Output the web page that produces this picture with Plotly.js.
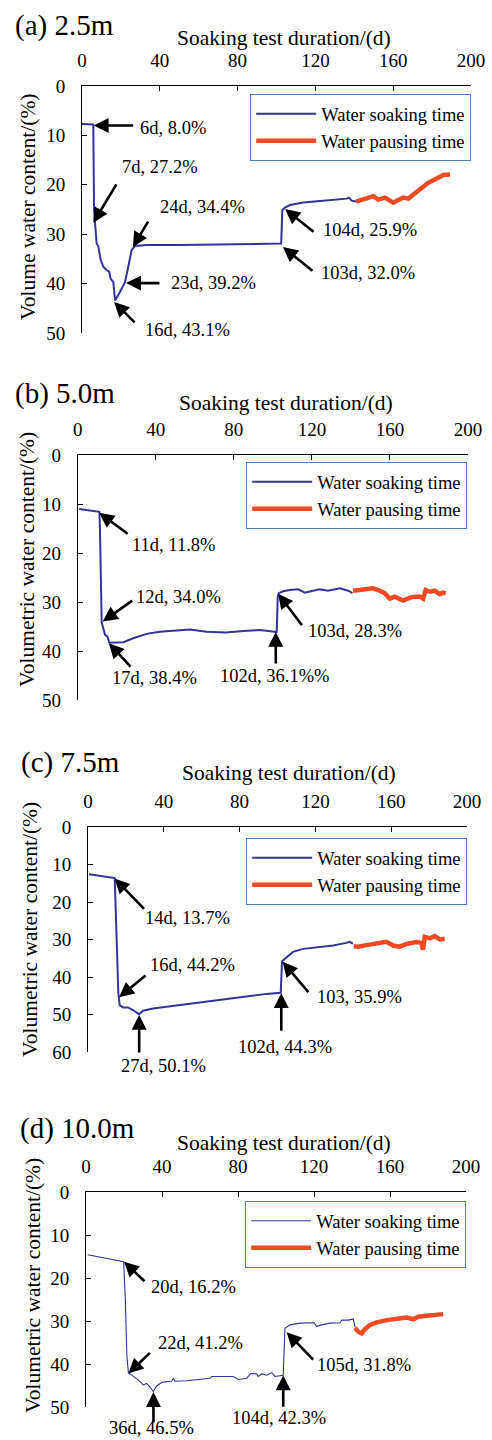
<!DOCTYPE html>
<html>
<head>
<meta charset="utf-8">
<script src="https://cdn.plot.ly/plotly-3.0.1.min.js"></script>
<style>
html,body{margin:0;padding:0;background:#fff;}
#chart{width:492px;height:1440px;}
</style>
</head>
<body>
<div id="chart"></div>
<script>
// ---------------- DATA ----------------
const xTickVals = [0, 40, 80, 120, 160, 200];

const panelTitles = ['(a) 2.5m', '(b) 5.0m', '(c) 7.5m', '(d) 10.0m'];
const xTitle = 'Soaking test duration/(d)';
const yTitles = ['Volume water content/(%)', 'Volumetric water content/(%)',
                 'Volumetric water content/(%)', 'Volumetric water content/(%)'];
const seriesNames = ['Water soaking time', 'Water pausing time'];
const yMax = [50, 50, 60, 50];

// (a) 2.5 m
const aBlueDay = [0, 3, 5.8, 6.2, 6.7, 7.5, 8.4, 9.6, 11, 12.7, 14, 14.7, 16.1, 16.6, 17, 19.5, 22.1, 23.8, 25.5, 27.2, 33.3, 50, 70, 90, 102.4, 103, 104.4, 106.9, 113.8, 122.4, 130.9, 136.1, 137.3, 138.6, 140.9];
const aBlueVal = [7.7, 7.7, 7.8, 25.1, 27.8, 31.8, 32.5, 35.2, 36.6, 37.3, 37.6, 39.0, 39.7, 43.0, 43.4, 41.7, 39.7, 36.6, 33.2, 32.4, 32.2, 32.2, 32.1, 31.9, 31.9, 25.1, 24.6, 24.1, 23.6, 23.3, 23.0, 22.8, 22.6, 23.2, 23.4];
const aRedDay = [140.9, 143.8, 147.2, 149.8, 152.3, 155.8, 157.5, 160.1, 162.6, 165.2, 167.8, 170.3, 172.9, 175.5, 178, 180.6, 183.2, 185.8, 189.2];
const aRedVal = [23.4, 23.1, 22.8, 22.3, 23.0, 22.6, 23.0, 23.6, 23.1, 22.6, 22.8, 22.0, 21.3, 20.4, 19.6, 19.1, 18.5, 18.0, 17.9];
const aNoteDay = [6, 5.8, 26.2, 22.6, 16.5, 104.4, 103.3];
const aNoteVal = [8.0, 27.7, 32.6, 39.9, 43.7, 24.9, 32.6];
const aNoteText = ['6d, 8.0%', '7d, 27.2%', '24d, 34.4%', '23d, 39.2%', '16d, 43.1%', '104d, 25.9%', '103d, 32.0%'];

// (b) 5.0 m
const bBlueDay = [0.7, 5, 11.1, 11.4, 12, 12.3, 14, 15.2, 16.2, 20, 23.4, 28.5, 35.3, 42, 49, 57.5, 66, 76, 84.8, 93.3, 101, 102, 102.5, 103, 105.3, 108.7, 113, 116.4, 120.6, 124, 128.3, 134.3, 138.6, 140.8];
const bBlueVal = [11.0, 11.3, 11.6, 15, 34.0, 34.2, 36.7, 37.0, 38.3, 38.3, 38.2, 37.4, 36.5, 36.05, 35.85, 35.6, 36.05, 36.2, 35.9, 35.7, 36.05, 36.1, 29, 28.2, 27.8, 27.55, 27.4, 28.1, 27.7, 27.4, 27.7, 27.2, 27.7, 28.2];
const bRedDay = [141.1, 146.2, 151.4, 154.8, 157.3, 159.9, 162.5, 166.7, 171, 175.3, 177, 178.3, 180.4, 182.9, 185.5, 187.2, 188.6];
const bRedVal = [27.7, 27.55, 27.2, 27.7, 28.2, 29.3, 28.9, 29.7, 29.0, 28.9, 29.3, 27.55, 27.9, 27.7, 28.4, 28.1, 28.2];
const bNoteDay = [11, 12.8, 16, 101.5, 102.7];
const bNoteVal = [11.8, 34.0, 38.4, 36.1, 28.3];
const bNoteText = ['11d, 11.8%', '12d, 34.0%', '17d, 38.4%', '102d, 36.1%%', '103d, 28.3%'];

// (c) 7.5 m
const cBlueDay = [0.5, 7, 14.1, 14.5, 15.5, 16, 16.7, 18.5, 21.1, 23.7, 26.9, 29, 34.3, 44.9, 58.9, 76.5, 94.1, 101.7, 102.4, 104.7, 108.2, 113.5, 120.5, 129.3, 136.3, 138, 139.8];
const cBlueVal = [12.6, 13.1, 13.6, 20, 38, 44.2, 47.5, 48.1, 48.1, 48.8, 49.9, 49.0, 48.4, 47.7, 46.9, 45.7, 44.5, 44.2, 35.8, 34.8, 33.3, 32.5, 32.1, 31.6, 30.9, 30.6, 31.1];
const cRedDay = [140.2, 142.5, 146.9, 152.2, 157.4, 161, 164.5, 168, 173.3, 175.9, 176.8, 177.7, 180.3, 182.9, 185.6, 188.2];
const cRedVal = [31.8, 31.9, 31.5, 31.1, 30.6, 31.6, 31.9, 31.2, 30.7, 30.9, 32.7, 29.3, 29.7, 29.1, 30.0, 29.8];
const cNoteDay = [14, 16.4, 27, 102, 102.7];
const cNoteVal = [13.7, 45.4, 50.1, 44.3, 35.9];
const cNoteText = ['14d, 13.7%', '16d, 44.2%', '27d, 50.1%', '102d, 44.3%', '103, 35.9%'];

// (d) 10.0 m
const dBlueDay = [0.9, 10, 19.8, 20.7, 21.5, 22.3, 24.9, 27.5, 30.2, 31.9, 33.7, 35.4, 37.2, 39.8, 42.5, 45.1, 46, 46.8, 53, 60, 65.3, 66.2, 77.5, 80.2, 84.6, 86.7, 89.8, 90.7, 92.5, 95.1, 97.7, 99.5, 102.1, 103.8, 104.7, 107.4, 112.6, 117.9, 120, 121.4, 124, 128.4, 133.7, 134.6, 138.1, 140.7, 141.6];
const dBlueVal = [14.6, 15.4, 16.2, 25, 38, 42.0, 42.9, 43.7, 44.9, 44.5, 45.4, 46.4, 45.1, 44.3, 44.1, 44.0, 43.3, 44.0, 43.9, 43.6, 43.3, 42.9, 42.9, 43.6, 43.3, 42.2, 42.3, 42.9, 42.3, 42.6, 42.0, 42.9, 42.8, 42.6, 31.7, 30.9, 30.5, 30.4, 30.4, 31.3, 30.9, 30.5, 30.4, 29.8, 29.8, 29.5, 31.5];
const dRedDay = [141.6, 143.3, 145.1, 146.8, 149.5, 153, 158.3, 163.5, 168.8, 172.3, 174.9, 179.3, 183.7, 188];
const dRedVal = [31.6, 32.5, 32.9, 31.9, 30.9, 30.3, 29.8, 29.5, 29.2, 29.6, 29.0, 28.8, 28.6, 28.4];
const dNoteDay = [20, 22.3, 35.5, 103.8, 105.6];
const dNoteVal = [16.2, 42.2, 46.5, 42.6, 32.6];
const dNoteText = ['20d, 16.2%', '22d, 41.2%', '36d, 46.5%', '104d, 42.3%', '105d, 31.8%'];

// ---------------- LAYOUT / STYLE ----------------
const W = 492, H = 1440;
const FONT = 'Liberation Serif, Times New Roman, serif';
const BLUE = '#33339a', RED = '#f04a24', LEGBORDER = '#4a7ebb';
const blueWidth = [2, 2, 2, 1.1];

// plot-area pixel boxes [left, right], [top, bottom]
const boxX = [[82, 471], [77.7, 468], [88, 467], [86, 466]];
const boxY = [[86, 333], [455, 700], [827, 1052], [1192, 1407]];
const titlePos = [[13, 25], [13, 393], [19, 762], [18, 1128]];
const xTitlePos = [[284, 38], [286, 403], [289, 773], [284, 1143]];
const yTitlePos = [[28, 207], [27, 560], [30, 930], [33, 1286]];
const legendPos = [[471, 94], [467, 462], [467, 838], [466, 1201]];

// annotation placement (pixels): arrow tail offset, text left/centre offset
const arrowDX = [[41, 24, 16, 35, 22, 30, 31], [30, 31, 23, 0, 25], [31, 28, 0, 0, 27], [22, 23, 0, 0, 28]];
const arrowDY = [[0, -40, -27, 0, 22, 24, 25], [22, -22, 25, 33, 33], [32, -23, 39, 39, 32], [21, -22, 32, 33, 29]];
const textDX = [[44, 27, 25, 43, 29, 36, 36], [31, 31, 1, -58, 28], [28, 29, -20, -45, 32], [25, 28, -46, -53, 28]];
const textDY = [[-2, 56, 40, 0, -28, -21, -26], [-32, 25, -35, -44, -37], [-40, 32, -51, -54, -35], [-25, 30, -36, -43, -33]];

const panels = [
  {bd: aBlueDay, bv: aBlueVal, rd: aRedDay, rv: aRedVal, nd: aNoteDay, nv: aNoteVal, nt: aNoteText},
  {bd: bBlueDay, bv: bBlueVal, rd: bRedDay, rv: bRedVal, nd: bNoteDay, nv: bNoteVal, nt: bNoteText},
  {bd: cBlueDay, bv: cBlueVal, rd: cRedDay, rv: cRedVal, nd: cNoteDay, nv: cNoteVal, nt: cNoteText},
  {bd: dBlueDay, bv: dBlueVal, rd: dRedDay, rv: dRedVal, nd: dNoteDay, nv: dNoteVal, nt: dNoteText}
];

const traces = [];
const layout = {
  width: W, height: H,
  margin: {l: 0, r: 0, t: 0, b: 0, pad: 0},
  paper_bgcolor: '#ffffff', plot_bgcolor: '#ffffff',
  font: {family: FONT, color: '#000', size: 18},
  showlegend: true,
  annotations: []
};

panels.forEach((p, i) => {
  const n = i === 0 ? '' : String(i + 1);
  const xa = 'x' + n, ya = 'y' + n, lg = 'legend' + n;
  traces.push({
    x: p.bd, y: p.bv, xaxis: xa, yaxis: ya, type: 'scatter', mode: 'lines',
    name: seriesNames[0], legend: lg,
    line: {color: BLUE, width: blueWidth[i]}, hoverinfo: 'skip'
  });
  traces.push({
    x: p.rd, y: p.rv, xaxis: xa, yaxis: ya, type: 'scatter', mode: 'lines',
    name: seriesNames[1], legend: lg,
    line: {color: RED, width: 4.5}, hoverinfo: 'skip'
  });

  layout['xaxis' + n] = {
    domain: [boxX[i][0] / W, boxX[i][1] / W],
    anchor: ya, side: 'top', range: [0, 200],
    tickmode: 'array', tickvals: xTickVals, ticktext: xTickVals.map(String),
    ticks: 'inside', ticklen: 5, tickwidth: 1, tickcolor: '#000',
    showline: true, linecolor: '#000', linewidth: 1,
    showgrid: false, zeroline: false, fixedrange: true,
    ticklabelstandoff: 10,
    tickfont: {family: FONT, size: 19, color: '#000'}
  };
  const yTicks = [];
  for (let v = 0; v <= yMax[i]; v += 10) yTicks.push(v);
  layout['yaxis' + n] = {
    domain: [1 - boxY[i][1] / H, 1 - boxY[i][0] / H],
    anchor: xa, range: [yMax[i], 0],
    tickmode: 'array', tickvals: yTicks, ticktext: yTicks.map(String),
    ticks: 'inside', ticklen: 5, tickwidth: 1, tickcolor: '#000',
    showline: true, linecolor: '#000', linewidth: 1,
    showgrid: false, zeroline: false, fixedrange: true,
    ticklabelstandoff: 12,
    tickfont: {family: FONT, size: 19, color: '#000'}
  };
  layout[lg] = {
    x: legendPos[i][0] / W, xanchor: 'right',
    y: 1 - legendPos[i][1] / H, yanchor: 'top',
    bgcolor: '#ffffff', bordercolor: LEGBORDER, borderwidth: 1.2,
    font: {family: FONT, size: 18.5, color: '#000'},
    tracegroupgap: 0, itemwidth: 60
  };

  // panel title
  layout.annotations.push({
    xref: 'paper', yref: 'paper', x: titlePos[i][0] / W, y: 1 - titlePos[i][1] / H,
    xanchor: 'left', yanchor: 'middle', showarrow: false,
    text: panelTitles[i], font: {family: FONT, size: 29, color: '#000'}
  });
  // axis titles
  layout.annotations.push({
    xref: 'paper', yref: 'paper', x: xTitlePos[i][0] / W, y: 1 - xTitlePos[i][1] / H,
    xanchor: 'center', yanchor: 'middle', showarrow: false,
    text: xTitle, font: {family: FONT, size: 21.5, color: '#000'}
  });
  layout.annotations.push({
    xref: 'paper', yref: 'paper', x: yTitlePos[i][0] / W, y: 1 - yTitlePos[i][1] / H,
    xanchor: 'center', yanchor: 'middle', showarrow: false, textangle: -90,
    text: yTitles[i], font: {family: FONT, size: 21.5, color: '#000'}
  });

  // arrows + labels
  p.nd.forEach((d, k) => {
    layout.annotations.push({
      xref: xa, yref: ya, x: d, y: p.nv[k], text: '',
      showarrow: true, arrowhead: 2, arrowsize: 1.15, arrowwidth: 2.6, arrowcolor: '#000',
      ax: arrowDX[i][k], ay: arrowDY[i][k], standoff: 0, startstandoff: 0
    });
    layout.annotations.push({
      xref: xa, yref: ya, x: d, y: p.nv[k], text: p.nt[k],
      showarrow: false, xanchor: 'left', yanchor: 'middle',
      xshift: textDX[i][k], yshift: textDY[i][k],
      font: {family: FONT, size: 18.5, color: '#000'}
    });
  });
});

Plotly.newPlot('chart', traces, layout, {displayModeBar: false, staticPlot: true});
</script>
</body>
</html>
